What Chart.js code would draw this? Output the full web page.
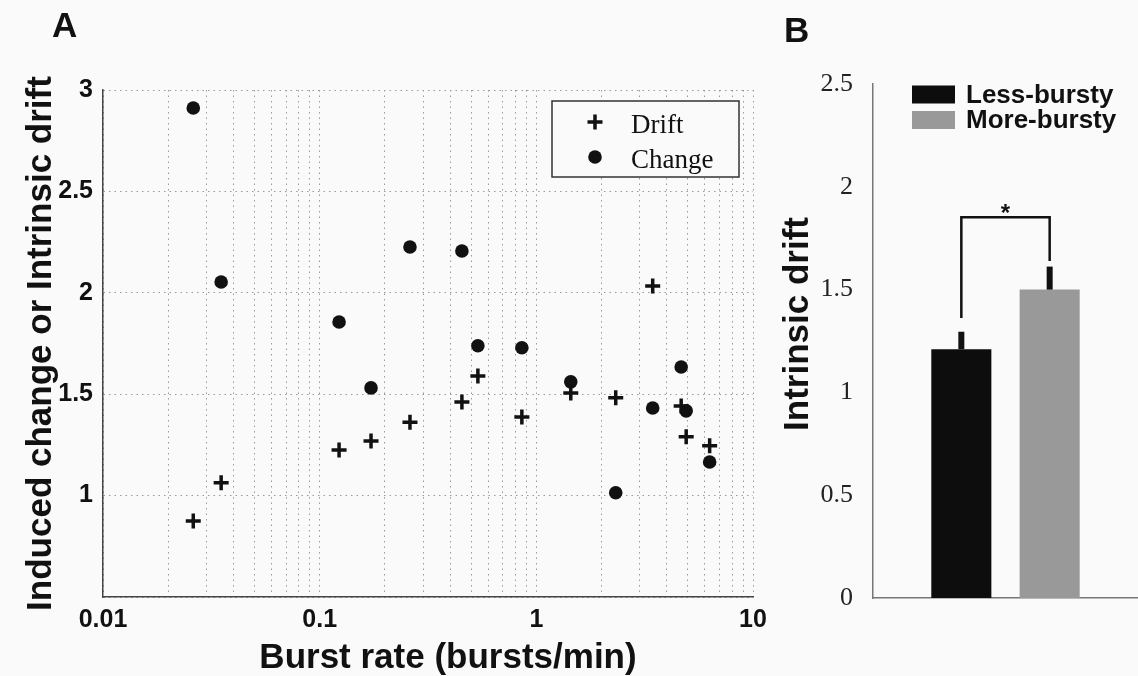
<!DOCTYPE html>
<html>
<head>
<meta charset="utf-8">
<script src="https://cdn.jsdelivr.net/npm/chart.js@4.4.1/dist/chart.umd.min.js"></script>
<style>
  html, body { margin: 0; padding: 0; background: #fafafa; }
  #wrap { position: relative; width: 1138px; height: 676px; overflow: hidden; }
  #scatterBox { position: absolute; left: 0; top: 0; width: 780px; height: 676px; }
  #barBox { position: absolute; left: 770px; top: 0; width: 368px; height: 676px; }
  .panel { position: absolute; font: bold 35px "Liberation Sans", Arial, sans-serif; line-height: 39px; color: #111; }
  .axTitle { position: absolute; font: bold 35px "Liberation Sans", Arial, sans-serif; line-height: 42px;
             color: #111; text-align: center; white-space: nowrap; }
</style>
</head>
<body>
<div id="wrap">
  <div id="scatterBox"><canvas id="scatterChart"></canvas></div>
  <div id="barBox"><canvas id="barChart"></canvas></div>
  <div class="panel" style="left:52px; top:5px">A</div>
  <div class="panel" style="left:784px; top:10px">B</div>
  <div class="axTitle" style="left:148px; top:635px; width:600px">Burst rate (bursts/min)</div>
  <div class="axTitle" style="left:596px; top:303px; width:400px; transform: rotate(-90deg)">Intrinsic drift</div>
</div>
<script>
// Panel A: burst rate (bursts/min) per session, drift and induced change
const burstRate = [0.0261, 0.0351, 0.1229, 0.1726, 0.2611, 0.4534, 0.5373, 0.8574, 1.442, 2.325, 3.444, 4.661, 4.916, 6.308];
const driftValue = [0.875, 1.063, 1.225, 1.269, 1.362, 1.461, 1.59, 1.388, 1.506, 1.482, 2.034, 1.442, 1.29, 1.246];
const changeValue = [2.911, 2.053, 1.856, 1.531, 2.226, 2.206, 1.739, 1.729, 1.561, 1.014, 1.432, 1.634, 1.418, 1.166];

// log axis: gridlines at every 1..9 x decade, labels only on decades
const rateGrid = [0.01, 0.02, 0.03, 0.04, 0.05, 0.06, 0.07, 0.08, 0.09,
                  0.1, 0.2, 0.3, 0.4, 0.5, 0.6, 0.7, 0.8, 0.9,
                  1, 2, 3, 4, 5, 6, 7, 8, 9, 10];
const rateLabels = [0.01, 0.1, 1, 10];

// Panel B: mean intrinsic drift by group (one-sided error bars)
const groups = ["Less-bursty", "More-bursty"];
const slotLabels = ["", "Less-bursty", "More-bursty", ""];
const driftMean = [1.21, 1.50];
const driftErr = [0.085, 0.112];
const groupColors = ["#0d0d0d", "#999999"];

// significance bracket: foot of each leg, top of bracket
const bracketFeet = [1.362, 1.639];
const bracketTop = 1.852;

const SANS = '"Liberation Sans", Arial, Helvetica, sans-serif';
const SERIF = '"Liberation Serif", "Times New Roman", serif';
Chart.defaults.font.family = SANS;

// legend drawn at a fixed spot, using each dataset's own style
const boxLegend = {
  id: 'boxLegend',
  afterDraw(chart, args, opts) {
    const ctx = chart.ctx;
    ctx.save();
    if (opts.frame) {
      const [fx, fy, fw, fh] = opts.frame;
      ctx.fillStyle = '#fafafa';
      ctx.fillRect(fx, fy, fw, fh);
      ctx.strokeStyle = '#333';
      ctx.lineWidth = 1.5;
      ctx.strokeRect(fx, fy, fw, fh);
    }
    chart.data.datasets.forEach((ds, i) => {
      const cy = opts.y + i * opts.gap;
      ctx.fillStyle = ds.backgroundColor;
      ctx.strokeStyle = ds.borderColor || ds.backgroundColor;
      if (opts.swatch) {
        ctx.fillRect(opts.x, cy - opts.swatch[1] / 2, opts.swatch[0], opts.swatch[1]);
      } else if (ds.pointStyle === 'cross') {
        const r = ds.pointRadius;
        ctx.lineWidth = ds.borderWidth;
        ctx.beginPath();
        ctx.moveTo(opts.x - r, cy); ctx.lineTo(opts.x + r, cy);
        ctx.moveTo(opts.x, cy - r); ctx.lineTo(opts.x, cy + r);
        ctx.stroke();
      } else {
        ctx.beginPath();
        ctx.arc(opts.x, cy, ds.pointRadius, 0, Math.PI * 2);
        ctx.fill();
      }
      ctx.fillStyle = opts.color;
      ctx.font = opts.font;
      ctx.textAlign = 'left';
      ctx.textBaseline = 'alphabetic';
      ctx.fillText(ds.label, opts.textX, cy + opts.baseline);
    });
    ctx.restore();
  }
};

// error bars + significance bracket for panel B
const errorBars = {
  id: 'errorBars',
  afterDatasetsDraw(chart) {
    const ctx = chart.ctx;
    const yScale = chart.scales.y;
    const centers = [];
    ctx.save();
    ctx.strokeStyle = '#111';
    ctx.lineCap = 'butt';
    chart.data.datasets.forEach((ds, i) => {
      const bar = chart.getDatasetMeta(i).data[slotLabels.indexOf(groups[i])];
      centers.push(bar.x);
      ctx.lineWidth = 6;
      ctx.beginPath();
      ctx.moveTo(bar.x, yScale.getPixelForValue(driftMean[i]));
      ctx.lineTo(bar.x, yScale.getPixelForValue(driftMean[i] + driftErr[i]));
      ctx.stroke();
    });
    const top = yScale.getPixelForValue(bracketTop);
    ctx.lineWidth = 2.5;
    ctx.lineJoin = 'miter';
    ctx.beginPath();
    ctx.moveTo(centers[0], yScale.getPixelForValue(bracketFeet[0]));
    ctx.lineTo(centers[0], top);
    ctx.lineTo(centers[1], top);
    ctx.lineTo(centers[1], yScale.getPixelForValue(bracketFeet[1]));
    ctx.stroke();
    ctx.fillStyle = '#111';
    ctx.font = 'bold 24px ' + SANS;
    ctx.textAlign = 'center';
    ctx.textBaseline = 'alphabetic';
    ctx.fillText('*', (centers[0] + centers[1]) / 2, top + 4);
    ctx.restore();
  }
};

window.onload = function () {
  // Scatter, log x
  new Chart(document.getElementById("scatterChart"), {
    type: "scatter",
    data: {
      datasets: [
        {
          label: "Drift",
          data: burstRate.map((x, i) => ({ x: x, y: driftValue[i] })),
          pointStyle: "cross",
          pointRadius: 7.5,
          borderWidth: 3.5,
          borderColor: "#111",
          backgroundColor: "#111"
        },
        {
          label: "Change",
          data: burstRate.map((x, i) => ({ x: x, y: changeValue[i] })),
          pointStyle: "circle",
          pointRadius: 6.8,
          borderWidth: 0,
          borderColor: "#111",
          backgroundColor: "#111"
        }
      ]
    },
    options: {
      responsive: true,
      maintainAspectRatio: false,
      animation: false,
      layout: { padding: { top: 90, right: 27, left: 0, bottom: 0 } },
      plugins: {
        legend: { display: false },
        tooltip: { enabled: false },
        boxLegend: {
          frame: [552, 101, 187, 76],
          x: 595, y: 122, gap: 35, textX: 631, baseline: 11,
          font: '27px ' + SERIF, color: '#111'
        }
      },
      scales: {
        x: {
          type: "logarithmic",
          min: 0.01,
          max: 10,
          afterBuildTicks: (s) => { s.ticks = rateGrid.map(v => ({ value: v })); },
          afterFit: (s) => { s.height = 79; },
          ticks: {
            autoSkip: false,
            maxRotation: 0,
            padding: 8,
            color: "#111",
            font: { size: 25, weight: "bold" },
            callback: (v) => rateLabels.includes(v) ? String(v) : ""
          },
          grid: { color: "#9a9a9a", drawTicks: false },
          border: { color: "#444", width: 1.5, dash: [1.5, 4] }
        },
        y: {
          min: 0.5,
          max: 3,
          afterFit: (s) => { s.width = 103; },
          ticks: {
            stepSize: 0.5,
            padding: 10,
            color: "#111",
            font: { size: 25, weight: "bold" },
            callback: (v) => v === 0.5 ? "" : String(v)
          },
          grid: { color: "#9a9a9a", drawTicks: false },
          border: { color: "#444", width: 1.5, dash: [1.5, 4] },
          title: {
            display: true,
            text: "Induced change or Intrinsic drift",
            color: "#111",
            font: { size: 35, weight: "bold", lineHeight: 1.2 },
            padding: { top: 20, bottom: 0 }
          }
        }
      }
    },
    plugins: [boxLegend]
  });

  // Bar chart
  new Chart(document.getElementById("barChart"), {
    type: "bar",
    data: {
      labels: slotLabels,
      datasets: groups.map((g, i) => ({
        label: g,
        data: slotLabels.map(l => l === g ? driftMean[i] : null),
        backgroundColor: groupColors[i],
        borderWidth: 0,
        grouped: false,
        categoryPercentage: 0.8,
        barPercentage: 0.85
      }))
    },
    options: {
      responsive: true,
      maintainAspectRatio: false,
      animation: false,
      layout: { padding: { top: 84, right: 0, left: 0, bottom: 0 } },
      plugins: {
        legend: { display: false },
        tooltip: { enabled: false },
        boxLegend: {
          swatch: [43, 18],
          x: 142, y: 94.5, gap: 25.5, textX: 196, baseline: 8,
          font: 'bold 26px ' + SANS, color: '#111'
        }
      },
      scales: {
        x: {
          offset: false,
          afterFit: (s) => { s.height = 78; },
          ticks: { display: false },
          grid: { display: false },
          border: { color: "#777", width: 1.5 }
        },
        y: {
          min: 0,
          max: 2.5,
          afterFit: (s) => { s.width = 103; },
          ticks: {
            stepSize: 0.5,
            padding: 12,
            color: "#222",
            font: { family: SERIF, size: 26 },
            callback: (v) => String(v)
          },
          grid: { display: false },
          border: { color: "#777", width: 1.5 }
        }
      }
    },
    plugins: [errorBars, boxLegend]
  });
};
</script>
</body>
</html>
